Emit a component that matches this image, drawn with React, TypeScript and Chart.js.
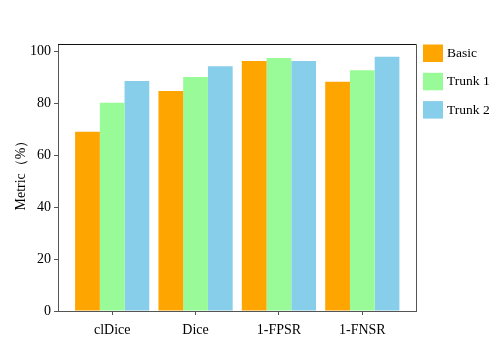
import React, { useEffect, useRef } from "react";
import { Chart, registerables } from "chart.js";

Chart.register(...registerables);

const categories = ["clDice", "Dice", "1-FPSR", "1-FNSR"];
const seriesNames = ["Basic", "Trunk 1", "Trunk 2"];
const basicValues = [69.1, 84.8, 96.3, 88.3];
const trunk1Values = [80.3, 90.2, 97.5, 92.8];
const trunk2Values = [88.6, 94.3, 96.3, 98.0];
const yTicks = [0, 20, 40, 60, 80, 100];
const colors = ["#FFA500", "#98FB98", "#87CEEB"];
const yTitle = "Metric（%）";

const FONT = "'Liberation Serif', 'Times New Roman', serif";

export default function App() {
  const ref = useRef<HTMLCanvasElement | null>(null);
  useEffect(() => {
    document.body.style.margin = "0";
    const canvas = ref.current;
    if (!canvas) return;
    const all = [basicValues, trunk1Values, trunk2Values];
    const frame = {
      id: "frame",
      afterDraw(chart: any) {
        const { ctx, chartArea } = chart;
        const { left, right, top, bottom } = chartArea;
        ctx.save();
        ctx.strokeStyle = "#111";
        ctx.lineWidth = 1.2;
        ctx.beginPath();
        ctx.moveTo(left, top);
        ctx.lineTo(right, top);
        ctx.stroke();
        ctx.strokeStyle = "#555";
        ctx.lineWidth = 1;
        ctx.beginPath();
        ctx.moveTo(right, top);
        ctx.lineTo(right, bottom);
        ctx.stroke();
        // y title
        ctx.save();
        ctx.translate(21, 172);
        ctx.rotate(-Math.PI / 2);
        ctx.font = `14px ${FONT}`;
        ctx.fillStyle = "#000";
        ctx.textAlign = "center";
        ctx.textBaseline = "middle";
        ctx.fillText(yTitle, 0, 0);
        ctx.restore();
        // legend
        ctx.font = `13.5px ${FONT}`;
        ctx.textBaseline = "middle";
        ctx.textAlign = "left";
        chart.data.datasets.forEach((ds: any, i: number) => {
          const y = 44.5 + i * 28.3;
          ctx.fillStyle = ds.backgroundColor;
          ctx.fillRect(423, y, 20, 17.5);
          ctx.fillStyle = "#000";
          ctx.fillText(ds.label, 447, y + 9);
        });
        ctx.restore();
      },
    };
    const chart = new Chart(canvas, {
      type: "bar",
      data: {
        datasets: all.map((vals, i) => ({
          label: seriesNames[i],
          data: vals.map((v, j) => ({ x: j, y: v })),
          backgroundColor: colors[i],
          borderWidth: 0,
          categoryPercentage: 0.89,
          barPercentage: 1.0,
        })),
      },
      options: {
        animation: false,
        responsive: false,
        layout: { padding: { top: 44.5, right: 74.5, left: 0, bottom: 0 } },
        plugins: { legend: { display: false }, tooltip: { enabled: false } },
        scales: {
          x: {
            type: "linear",
            min: -0.65,
            max: 3.65,
            offset: false,
            afterBuildTicks: (scale: any) => {
              scale.ticks = categories.map((_, i) => ({ value: i }));
            },
            afterFit: (scale: any) => {
              scale.height = 33;
            },
            ticks: {
              callback: (v: any) => categories[v as number] ?? "",
              font: { family: FONT, size: 14 },
              color: "#000",
              padding: 7,
              maxRotation: 0,
              autoSkip: false,
            },
            grid: {
              offset: false,
              drawOnChartArea: false,
              tickLength: 4,
              tickColor: "#555",
            },
            border: { color: "#555", width: 1 },
          },
          y: {
            min: 0,
            max: 102.7,
            afterBuildTicks: (scale: any) => {
              scale.ticks = yTicks.map((v) => ({ value: v }));
            },
            afterFit: (scale: any) => {
              scale.width = 58;
            },
            ticks: {
              font: { family: FONT, size: 14 },
              color: "#000",
              padding: 3,
            },
            grid: {
              drawOnChartArea: false,
              tickLength: 4,
              tickColor: "#555",
            },
            border: { color: "#555", width: 1 },
          },
        },
      },
      plugins: [frame],
    });
    return () => chart.destroy();
  }, []);
  return (
    <div style={{ width: 491, height: 344, position: "relative" }}>
      <canvas ref={ref} width={491} height={344} style={{ width: 491, height: 344 }} />
    </div>
  );
}
